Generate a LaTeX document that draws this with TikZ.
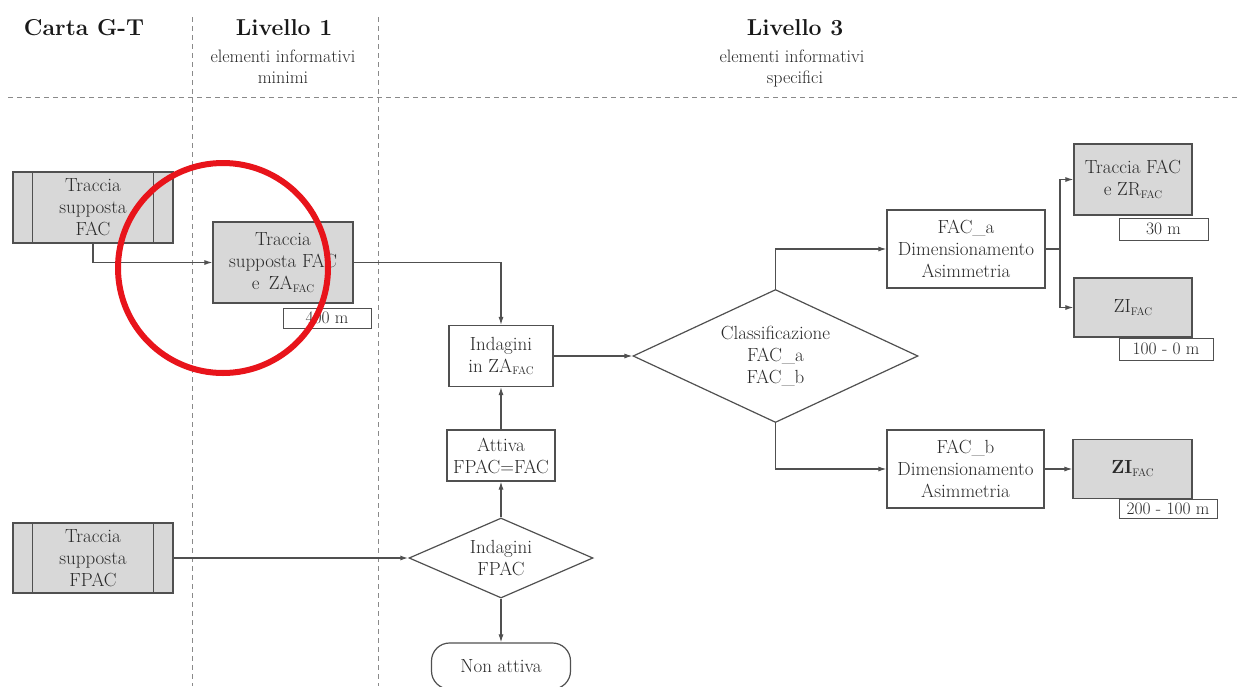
\documentclass[tikz,border=0pt]{standalone}
\usetikzlibrary{arrows.meta,shapes.geometric}
\definecolor{ln}{HTML}{505050}
\definecolor{tx}{HTML}{2A2A2A}
\definecolor{gf}{HTML}{D8D8D8}
\definecolor{dl}{HTML}{8A8A8A}
\definecolor{rc}{HTML}{E8141B}
\newcommand{\fsub}{\raisebox{-0.35ex}{\fontsize{11}{11}\selectfont FAC}}
\begin{document}
\begin{tikzpicture}[x=1pt,y=-1pt,
  every node/.style={text=tx, font=\fontsize{19}{22}\selectfont, inner sep=0pt, align=center},
  wbox/.style={draw=ln, line width=1.2pt, fill=white},
  gbox/.style={draw=ln, line width=1.2pt, fill=gf},
  lbl/.style={draw=ln, line width=1pt, fill=white, font=\fontsize{17.5}{20}\selectfont},
  dia/.style={diamond, draw=ln, line width=1.2pt, fill=white},
  conn/.style={draw=ln, line width=1.1pt, -{Latex[length=8pt,width=5pt]}},
  plain/.style={draw=ln, line width=1.1pt},
  sep/.style={draw=dl, line width=1pt, dash pattern=on 5pt off 4pt},
  title/.style={font=\fontsize{23}{26}\selectfont\bfseries, text=black!90},
  subt/.style={font=\fontsize{18}{22}\selectfont}]
\useasboundingbox (0,0) rectangle (1240,686);
\fill[white] (0,0) rectangle (1240,686);

% separators
\draw[sep] (8,97) -- (1240,97);
\draw[sep] (192,17) -- (192,686);
\draw[sep] (378,17) -- (378,686);

% headers
\node[title, anchor=base] (h0) at (84,35) {Carta G-T};
\node[title, anchor=base] (h1) at (284,35) {Livello 1};
\node[subt, anchor=base] (h1a) at (283,62) {elementi informativi};
\node[subt, anchor=base] (h1b) at (283,83) {minimi};
\node[title, anchor=base] (h3) at (795,35) {Livello 3};
\node[subt, anchor=base] (h3a) at (792,62) {elementi informativi};
\node[subt, anchor=base] (h3b) at (795,83) {specifici};

% left column
\node[gbox, minimum width=160pt, minimum height=71pt] (tfac) at (93,207.5) {Traccia\\supposta\\FAC};
\draw[ln, line width=1.2pt] ([xshift=20pt]tfac.north west) -- ([xshift=20pt]tfac.south west);
\draw[ln, line width=1.2pt] ([xshift=-20pt]tfac.north east) -- ([xshift=-20pt]tfac.south east);
\node[gbox, minimum width=160pt, minimum height=70pt] (tfp) at (93,558) {Traccia\\supposta\\FPAC};
\draw[ln, line width=1.2pt] ([xshift=20pt]tfp.north west) -- ([xshift=20pt]tfp.south west);
\draw[ln, line width=1.2pt] ([xshift=-20pt]tfp.north east) -- ([xshift=-20pt]tfp.south east);

% level 1
\node[gbox, minimum width=140pt, minimum height=81pt] (tza) at (283,262.5) {Traccia\\supposta FAC\\e\enspace ZA\fsub};
\node[lbl, minimum width=88pt, minimum height=20pt] (l400) at (327,318) {400 m};

% middle
\node[wbox, minimum width=104pt, minimum height=61pt] (iza) at (501,356) {Indagini\\in ZA\fsub};
\node[wbox, minimum width=108pt, minimum height=51pt] (att) at (501,455.5) {Attiva\\FPAC=FAC};
\node[dia, minimum width=184pt, minimum height=80pt, shape aspect=2.3] (ifp) at (501,558) {Indagini\\FPAC};
\node[wbox, rounded corners=18pt, minimum width=139pt, minimum height=46pt] (nat) at (501,666) {Non attiva};

% level 3
\node[dia, minimum width=285pt, minimum height=133pt, shape aspect=2.14] (cls) at (775.5,356) {Classificazione\\FAC\_a\\FAC\_b};
\node[wbox, minimum width=158pt, minimum height=78pt] (faca) at (966,249) {FAC\_a\\Dimensionamento\\Asimmetria};
\node[wbox, minimum width=157pt, minimum height=78pt] (facb) at (965.5,469) {FAC\_b\\Dimensionamento\\Asimmetria};
\node[gbox, minimum width=118pt, minimum height=71pt] (trf) at (1133,179.5) {Traccia FAC\\e ZR\fsub};
\node[lbl, minimum width=89pt, minimum height=22pt] (l30) at (1163.5,229) {30 m};
\node[gbox, minimum width=118pt, minimum height=59pt] (zia) at (1133,307.5) {ZI\fsub};
\node[lbl, minimum width=94pt, minimum height=22pt] (l100) at (1166,349) {100 - 0 m};
\node[gbox, minimum width=119pt, minimum height=59pt] (zib) at (1132.5,469) {\textbf{ZI}\fsub};
\node[lbl, minimum width=98pt, minimum height=19pt] (l200) at (1168,508.5) {200 - 100 m};

% connectors
\draw[conn] (tfac.south) |- (tza.west);
\draw[conn] (tza.east) -| (iza.north);
\draw[conn] (att.north) -- (iza.south);
\draw[conn] (ifp.north) -- (att.south);
\draw[conn] (ifp.south) -- (nat.north);
\draw[conn, line width=1.6pt] (tfp.east) -- (ifp.west);
\draw[conn] (iza.east) -- (cls.west);
\draw[conn] (cls.north) |- (faca.west);
\draw[conn] (cls.south) |- (facb.west);
\draw[conn] (facb.east) -- (zib.west);
\coordinate (br) at (1060,249);
\draw[plain] (faca.east) -- (br);
\draw[conn] (br) |- (trf.west);
\draw[conn] (br) |- (zia.west);

% red highlight circle
\draw[rc, line width=6pt] (223,268) circle[radius=105pt];
\end{tikzpicture}
\end{document}
